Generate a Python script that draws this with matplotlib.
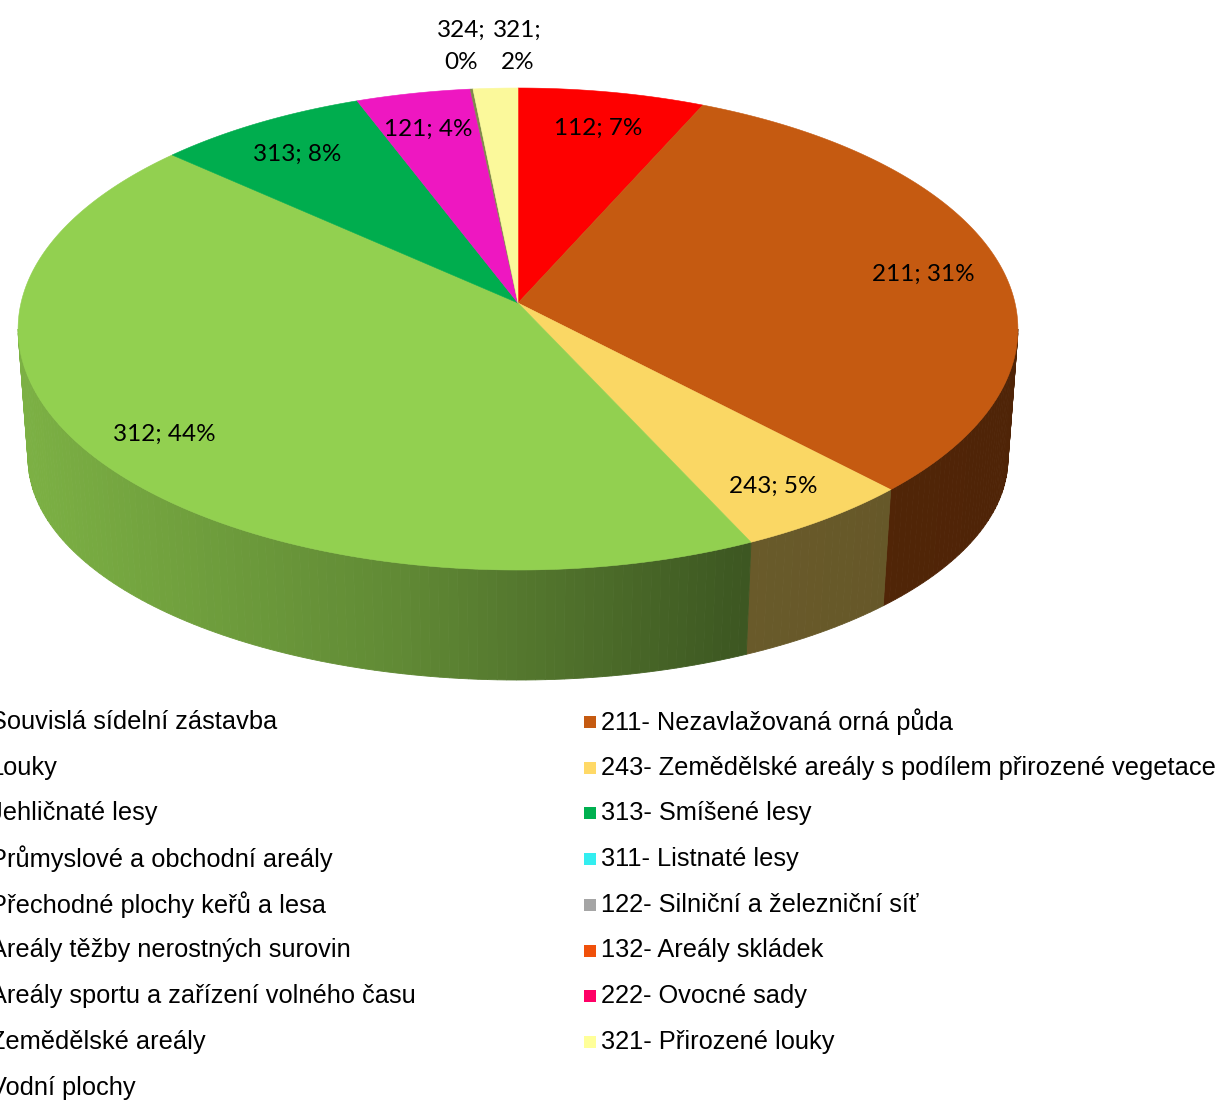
import numpy as np
import matplotlib
matplotlib.use("Agg")
import matplotlib.pyplot as plt
from matplotlib.patches import Polygon, Rectangle
from matplotlib.colors import to_rgb

# slices clockwise from 12 o'clock
codes = ["112", "211", "243", "312", "313", "121", "324", "321"]
shares = [6.7, 31.15, 5.2, 43.55, 7.6, 4.1, 0.1, 1.6]
top_colors = ["#fe0000", "#c55a11", "#fad764", "#92d050",
              "#00ad4e", "#ee17c1", "#7f8a4a", "#fbf99b"]

legend_left = ["Souvislá sídelní zástavba", "Louky", "Jehličnaté lesy",
               "Průmyslové a obchodní areály", "Přechodné plochy keřů a lesa",
               "Areály těžby nerostných surovin",
               "Areály sportu a zařízení volného času",
               "Zemědělské areály", "Vodní plochy"]
legend_right = ["211- Nezavlažovaná orná půda",
                "243- Zemědělské areály s podílem přirozené vegetace",
                "313- Smíšené lesy", "311- Listnaté lesy",
                "122- Silniční a železniční síť", "132- Areály skládek",
                "222- Ovocné sady", "321- Přirozené louky"]
legend_right_colors = ["#c55a11", "#ffd966", "#00b050", "#33eef0",
                       "#a5a5a5", "#f0500a", "#ff0066", "#ffff99"]

W, H = 1217, 1100
fig = plt.figure(figsize=(W / 100, H / 100), dpi=100)
ax = fig.add_axes([0, 0, 1, 1])
ax.set_xlim(0, W)
ax.set_ylim(H, 0)
ax.axis("off")

# perspective disc: u = sin(theta), v = cos(theta), v=1 is the far edge
CX, A, B, C, K = 518, 303, -205.5, 0.1079, 497


def top_xy(theta, r=1.0):
    u = r * np.sin(theta)
    v = r * np.cos(theta)
    d = 1 + C * v
    return CX + K * u / d, (A + B * v) / d


def bottom_xy(theta):
    x, y = top_xy(theta)
    v = np.cos(theta)
    return CX + (x - CX) * 0.98, y + 132 + 22 * v


def shade(x):
    return np.interp(x, [18, 400, 740, 1018], [0.85, 0.66, 0.42, 0.40])


vals = np.array(shares)
frac = vals / vals.sum()
edges = np.concatenate([[0], np.cumsum(frac)]) * 2 * np.pi
pcts = np.round(frac * 100).astype(int)

# side wall (front half only)
s_lo = np.arccos(-C)
s_hi = 2 * np.pi - s_lo
for i, col in enumerate(top_colors):
    a, b = max(edges[i], s_lo), min(edges[i + 1], s_hi)
    if b <= a:
        continue
    n = max(2, int(np.degrees(b - a)) + 1)
    ts = np.linspace(a, b, n)
    rgb = np.array(to_rgb(col))
    for t0, t1 in zip(ts[:-1], ts[1:]):
        tt = np.linspace(t0, t1, 4)
        xt, yt = top_xy(tt)
        xb, yb = bottom_xy(tt[::-1])
        xs = np.concatenate([xt, xb])
        ys = np.concatenate([yt, yb])
        c = rgb * shade(xt.mean())
        ax.add_patch(Polygon(np.column_stack([xs, ys]), closed=True,
                             facecolor=c, edgecolor=c, lw=0.6))

# top face
for i, col in enumerate(top_colors):
    tt = np.linspace(edges[i], edges[i + 1], 200)
    xt, yt = top_xy(tt)
    xs = np.concatenate([[CX], xt])
    ys = np.concatenate([[A], yt])
    ax.add_patch(Polygon(np.column_stack([xs, ys]), closed=True,
                         facecolor=col, edgecolor=col, lw=0.4))

# data labels
lab_font = dict(family="Lato", fontsize=17.5, color="black")
for i, code in enumerate(codes):
    mid = (edges[i] + edges[i + 1]) / 2
    if frac[i] > 0.03:
        x, y = top_xy(mid, 0.84)
        ax.text(x, y + 5, f"{code}; {pcts[i]}%", ha="center", va="center", **lab_font)

# the two tiny slices are labelled outside, side by side
mid_small = (edges[6] + edges[8]) / 2
xo, yo = top_xy(mid_small, 1.22)
ax.text(xo - 4, yo, f"{codes[6]};\n{pcts[6]}%", ha="right", va="center",
        multialignment="center", linespacing=1.7, **lab_font)
ax.text(xo + 4, yo, f"{codes[7]};\n{pcts[7]}%", ha="left", va="center",
        multialignment="center", linespacing=1.7, **lab_font)

# legend (left column runs off the canvas, like the source)
leg_font = dict(family=["Liberation Sans Narrow", "Liberation Sans"],
                fontsize=18.3, color="black", va="center")
y0, dy = 722, 45.7
for j, txt in enumerate(legend_left):
    ax.text(-10, y0 + j * dy, txt, ha="left", clip_on=False, **leg_font)
for j, (txt, col) in enumerate(zip(legend_right, legend_right_colors)):
    y = y0 + j * dy
    ax.add_patch(Rectangle((584, y - 6), 12, 12, facecolor=col, edgecolor="none"))
    ax.text(601, y, txt, ha="left", **leg_font)

fig.savefig("out.png", dpi=100)
